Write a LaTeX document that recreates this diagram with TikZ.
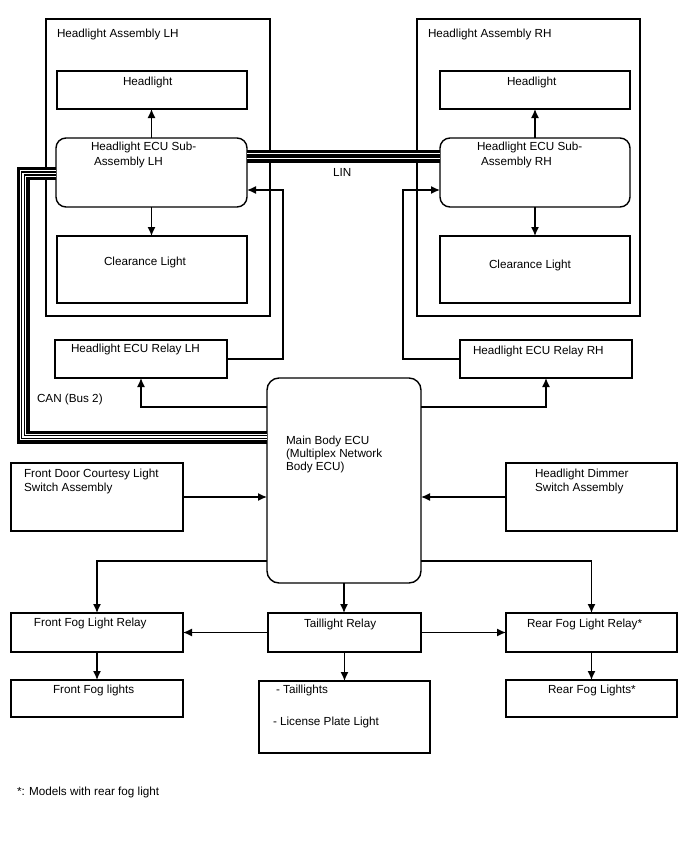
\documentclass[tikz,border=0pt]{standalone}
\usepackage{fontspec}
\setmainfont{Liberation Sans}
\usetikzlibrary{arrows.meta}
\begin{document}
\begin{tikzpicture}[x=1pt,y=-1pt,
  box/.style={draw, line width=1.4pt, inner sep=0pt, outer sep=0pt},
  rbox/.style={box, rounded corners=10pt},
  txt/.style={anchor=base west, inner sep=0pt, outer sep=0pt, font=\fontsize{11.7}{14}\selectfont},
  arr/.style={line width=1.4pt, -{Latex[length=9pt,width=8pt]}},
  busouter/.style={line width=3.2pt, double=white, double distance=6.6pt},
  caninner/.style={line width=1.5pt, double=white, double distance=1.4pt},
  lininner/.style={line width=3.2pt}
]
\useasboundingbox (0,0) rectangle (688,852);

% assemblies
\node[box, minimum width=224pt, minimum height=297pt] (asmL) at (158,167.5) {};
\node[box, minimum width=223pt, minimum height=297pt] (asmR) at (528.5,167.5) {};

% inner boxes
\node[box, minimum width=190pt, minimum height=38pt] (hlL) at (152,90) {};
\node[box, minimum width=190pt, minimum height=38pt] (hlR) at (535,90) {};
\node[rbox, minimum width=191pt, minimum height=69pt] (ecuL) at (151.5,172.5) {};
\node[rbox, minimum width=190pt, minimum height=69pt] (ecuR) at (535,172.5) {};
\node[box, minimum width=190pt, minimum height=67pt] (clL) at (152,269.5) {};
\node[box, minimum width=190pt, minimum height=67pt] (clR) at (535,269.5) {};
\node[box, minimum width=172pt, minimum height=38pt] (relL) at (141,359) {};
\node[box, minimum width=172pt, minimum height=38pt] (relR) at (546,359) {};
\node[box, rounded corners=12pt, minimum width=154pt, minimum height=205pt] (main) at (344,480.5) {};
\node[box, minimum width=172pt, minimum height=68pt] (door) at (97,497) {};
\node[box, minimum width=171pt, minimum height=68pt] (dim) at (591.5,497) {};
\node[box, minimum width=172pt, minimum height=39pt] (ffr) at (97,632.5) {};
\node[box, minimum width=153pt, minimum height=39pt] (tlr) at (344.5,632.5) {};
\node[box, minimum width=171pt, minimum height=39pt] (rfr) at (591.5,632.5) {};
\node[box, minimum width=172pt, minimum height=37pt] (ffl) at (97,698.5) {};
\node[box, minimum width=171pt, minimum height=72pt] (tl) at (344.5,717) {};
\node[box, minimum width=171pt, minimum height=37pt] (rfl) at (591.5,698.5) {};

% coordinates for bends
\coordinate (lin) at (343,156);
\coordinate (jL) at (283,190);
\coordinate (jR) at (403,190);
\coordinate (mL) at (141,407);
\coordinate (mB) at (97,561);
\coordinate (cTop) at (23,173.5);
\coordinate (cBot) at (23,437);

% LIN bus
\draw[busouter] (ecuL.east |- lin) -- (ecuR.west |- lin);
\draw[lininner] (ecuL.east |- lin) -- (ecuR.west |- lin);

% CAN bus
\draw[busouter] (ecuL.west |- cTop) -- (cTop) -- (cBot) -- (cBot -| main.west);
\draw[caninner] (ecuL.west |- cTop) -- (cTop) -- (cBot) -- (cBot -| main.west);

% arrows in assemblies
\draw[arr] (ecuL.north) -- (ecuL.north |- hlL.south);
\draw[arr] (ecuL.south) -- (ecuL.south |- clL.north);
\draw[arr] (ecuR.north) -- (ecuR.north |- hlR.south);
\draw[arr] (ecuR.south) -- (ecuR.south |- clR.north);

% relays to ECUs
\draw[arr] (relL.east) -| (jL) -- (jL -| ecuL.east);
\draw[arr] (relR.west) -| (jR) -- (jR -| ecuR.west);

% main to relays
\draw[arr] (main.west |- mL) -| (relL.south);
\draw[arr] (main.east |- mL) -| (relR.south);

% switches to main
\draw[arr] (door.east) -- (door.east -| main.west);
\draw[arr] (dim.west) -- (dim.west -| main.east);

% main to relays below
\draw[arr] (main.west |- mB) -| (ffr.north);
\draw[arr] (main.east |- mB) -| (rfr.north);
\draw[arr] (main.south) -- (main.south |- tlr.north);
\draw[arr] (tlr.west) -- (ffr.east);
\draw[arr] (tlr.east) -- (rfr.west);
\draw[arr] (ffr.south) -- (ffl.north);
\draw[arr] (tlr.south) -- (tl.north);
\draw[arr] (rfr.south) -- (rfl.north);

% texts
\node[txt] (tAsmL) at (57,37.3) {Headlight Assembly LH};
\node[txt] (tAsmR) at (428,37.3) {Headlight Assembly RH};
\node[txt] (tHlL) at (123,85) {Headlight};
\node[txt] (tHlR) at (507,85) {Headlight};
\node[txt] (tEcuL1) at (91,150.7) {Headlight ECU Sub-};
\node[txt] (tEcuL2) at (94,165) {Assembly LH};
\node[txt] (tEcuR1) at (477,150.7) {Headlight ECU Sub-};
\node[txt] (tEcuR2) at (481,165) {Assembly RH};
\node[txt] (tClL) at (104,265) {Clearance Light};
\node[txt] (tClR) at (489,268) {Clearance Light};
\node[txt] (tLin) at (333,176) {LIN};
\node[txt] (tRelL) at (71,352.7) {Headlight ECU Relay LH};
\node[txt] (tRelR) at (473,354) {Headlight ECU Relay RH};
\node[txt] (tCan) at (37,402.7) {CAN (Bus 2)};
\node[txt] (tMain1) at (286,444) {Main Body ECU};
\node[txt] (tMain2) at (286,457.3) {(Multiplex Network};
\node[txt] (tMain3) at (286,470.7) {Body ECU)};
\node[txt] (tDoor1) at (24,477.7) {Front Door Courtesy Light};
\node[txt] (tDoor2) at (24,491.7) {Switch Assembly};
\node[txt] (tDim1) at (535,477.7) {Headlight Dimmer};
\node[txt] (tDim2) at (535,491.7) {Switch Assembly};
\node[txt] (tFfr) at (34,626.7) {Front Fog Light Relay};
\node[txt] (tTlr) at (304,627) {Taillight Relay};
\node[txt] (tRfr) at (527,627) {Rear Fog Light Relay*};
\node[txt] (tFfl) at (53,693) {Front Fog lights};
\node[txt] (tTl1) at (276,693) {- Taillights};
\node[txt] (tTl2) at (273,725) {- License Plate Light};
\node[txt] (tRfl) at (548,693) {Rear Fog Lights*};
\node[txt] (tNote) at (17,795) {*: Models with rear fog light};
\end{tikzpicture}
\end{document}
